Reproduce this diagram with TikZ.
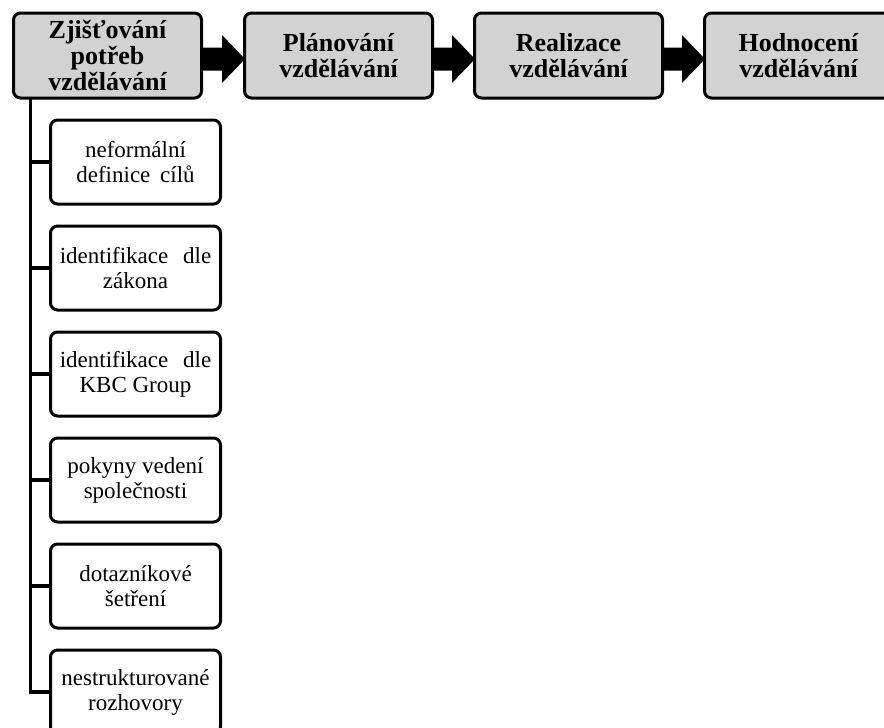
\documentclass[tikz,border=0pt]{standalone}
\usepackage{fontspec}
\setmainfont{Liberation Serif}
\usetikzlibrary{calc}
\definecolor{boxgray}{RGB}{210,210,210}
\begin{document}
\begin{tikzpicture}[x=1pt,y=1pt,
  topbox/.style={draw=black, line width=3pt, fill=boxgray, rounded corners=7pt,
    minimum width=188pt, minimum height=85pt, align=center, inner sep=0pt,
    font=\fontsize{26}{26}\selectfont\bfseries},
  subbox/.style={draw=black, line width=3pt, fill=white, rounded corners=7pt,
    minimum width=170pt, minimum height=84pt, align=center, inner sep=0pt,
    font=\fontsize{23}{25}\selectfont},
  link/.style={draw=black, line width=3.5pt}]
\useasboundingbox (0,0) rectangle (884,-728);
\clip (0,0) rectangle (884,-728);

% top process boxes
\node[topbox] (b1) at (107.5,-55.5) {Zjišťování\\potřeb\\vzdělávání};
\node[topbox] (b2) at (338.5,-55.5) {Plánování\\vzdělávání};
\node[topbox] (b3) at (568.5,-55.5) {Realizace\\vzdělávání};
\node[topbox] (b4) at (798.5,-55.5) {Hodnocení\\vzdělávání};

% fat block arrows between boxes
\foreach \a/\b in {b1/b2, b2/b3, b3/b4}{
  \fill[black] let \p1=(\a.east), \p2=(\b.west) in
    (\x1-1pt,\y1+8pt) -- (\x2-21pt,\y1+8pt) -- (\x2-21pt,\y1+20.5pt)
    -- (\x2+2pt,\y1-3.5pt) -- (\x2-21pt,\y1-27.5pt) -- (\x2-21pt,\y1-15pt)
    -- (\x1-1pt,\y1-15pt) -- cycle;
}

% sub-activity boxes
\node[subbox] (c1) at (135.5,-162) {neformální\\definice\hspace{4pt} cílů};
\node[subbox] (c2) at (135.5,-268) {identifikace\hspace{9pt} dle\\zákona};
\node[subbox] (c3) at (135.5,-374) {identifikace\hspace{9pt} dle\\KBC Group};
\node[subbox] (c4) at (135.5,-480) {pokyny vedení\\společnosti};
\node[subbox] (c5) at (135.5,-586) {dotazníkové\\šetření};
\node[subbox] (c6) at (135.5,-692) {nestrukturované\\rozhovory};

% tree connectors
\coordinate (trunk) at ($(b1.south west)+(18.5pt,1.5pt)$);
\foreach \c in {c1,c2,c3,c4,c5,c6}{
  \draw[link] (trunk) |- (\c.west);
}
\end{tikzpicture}
\end{document}
